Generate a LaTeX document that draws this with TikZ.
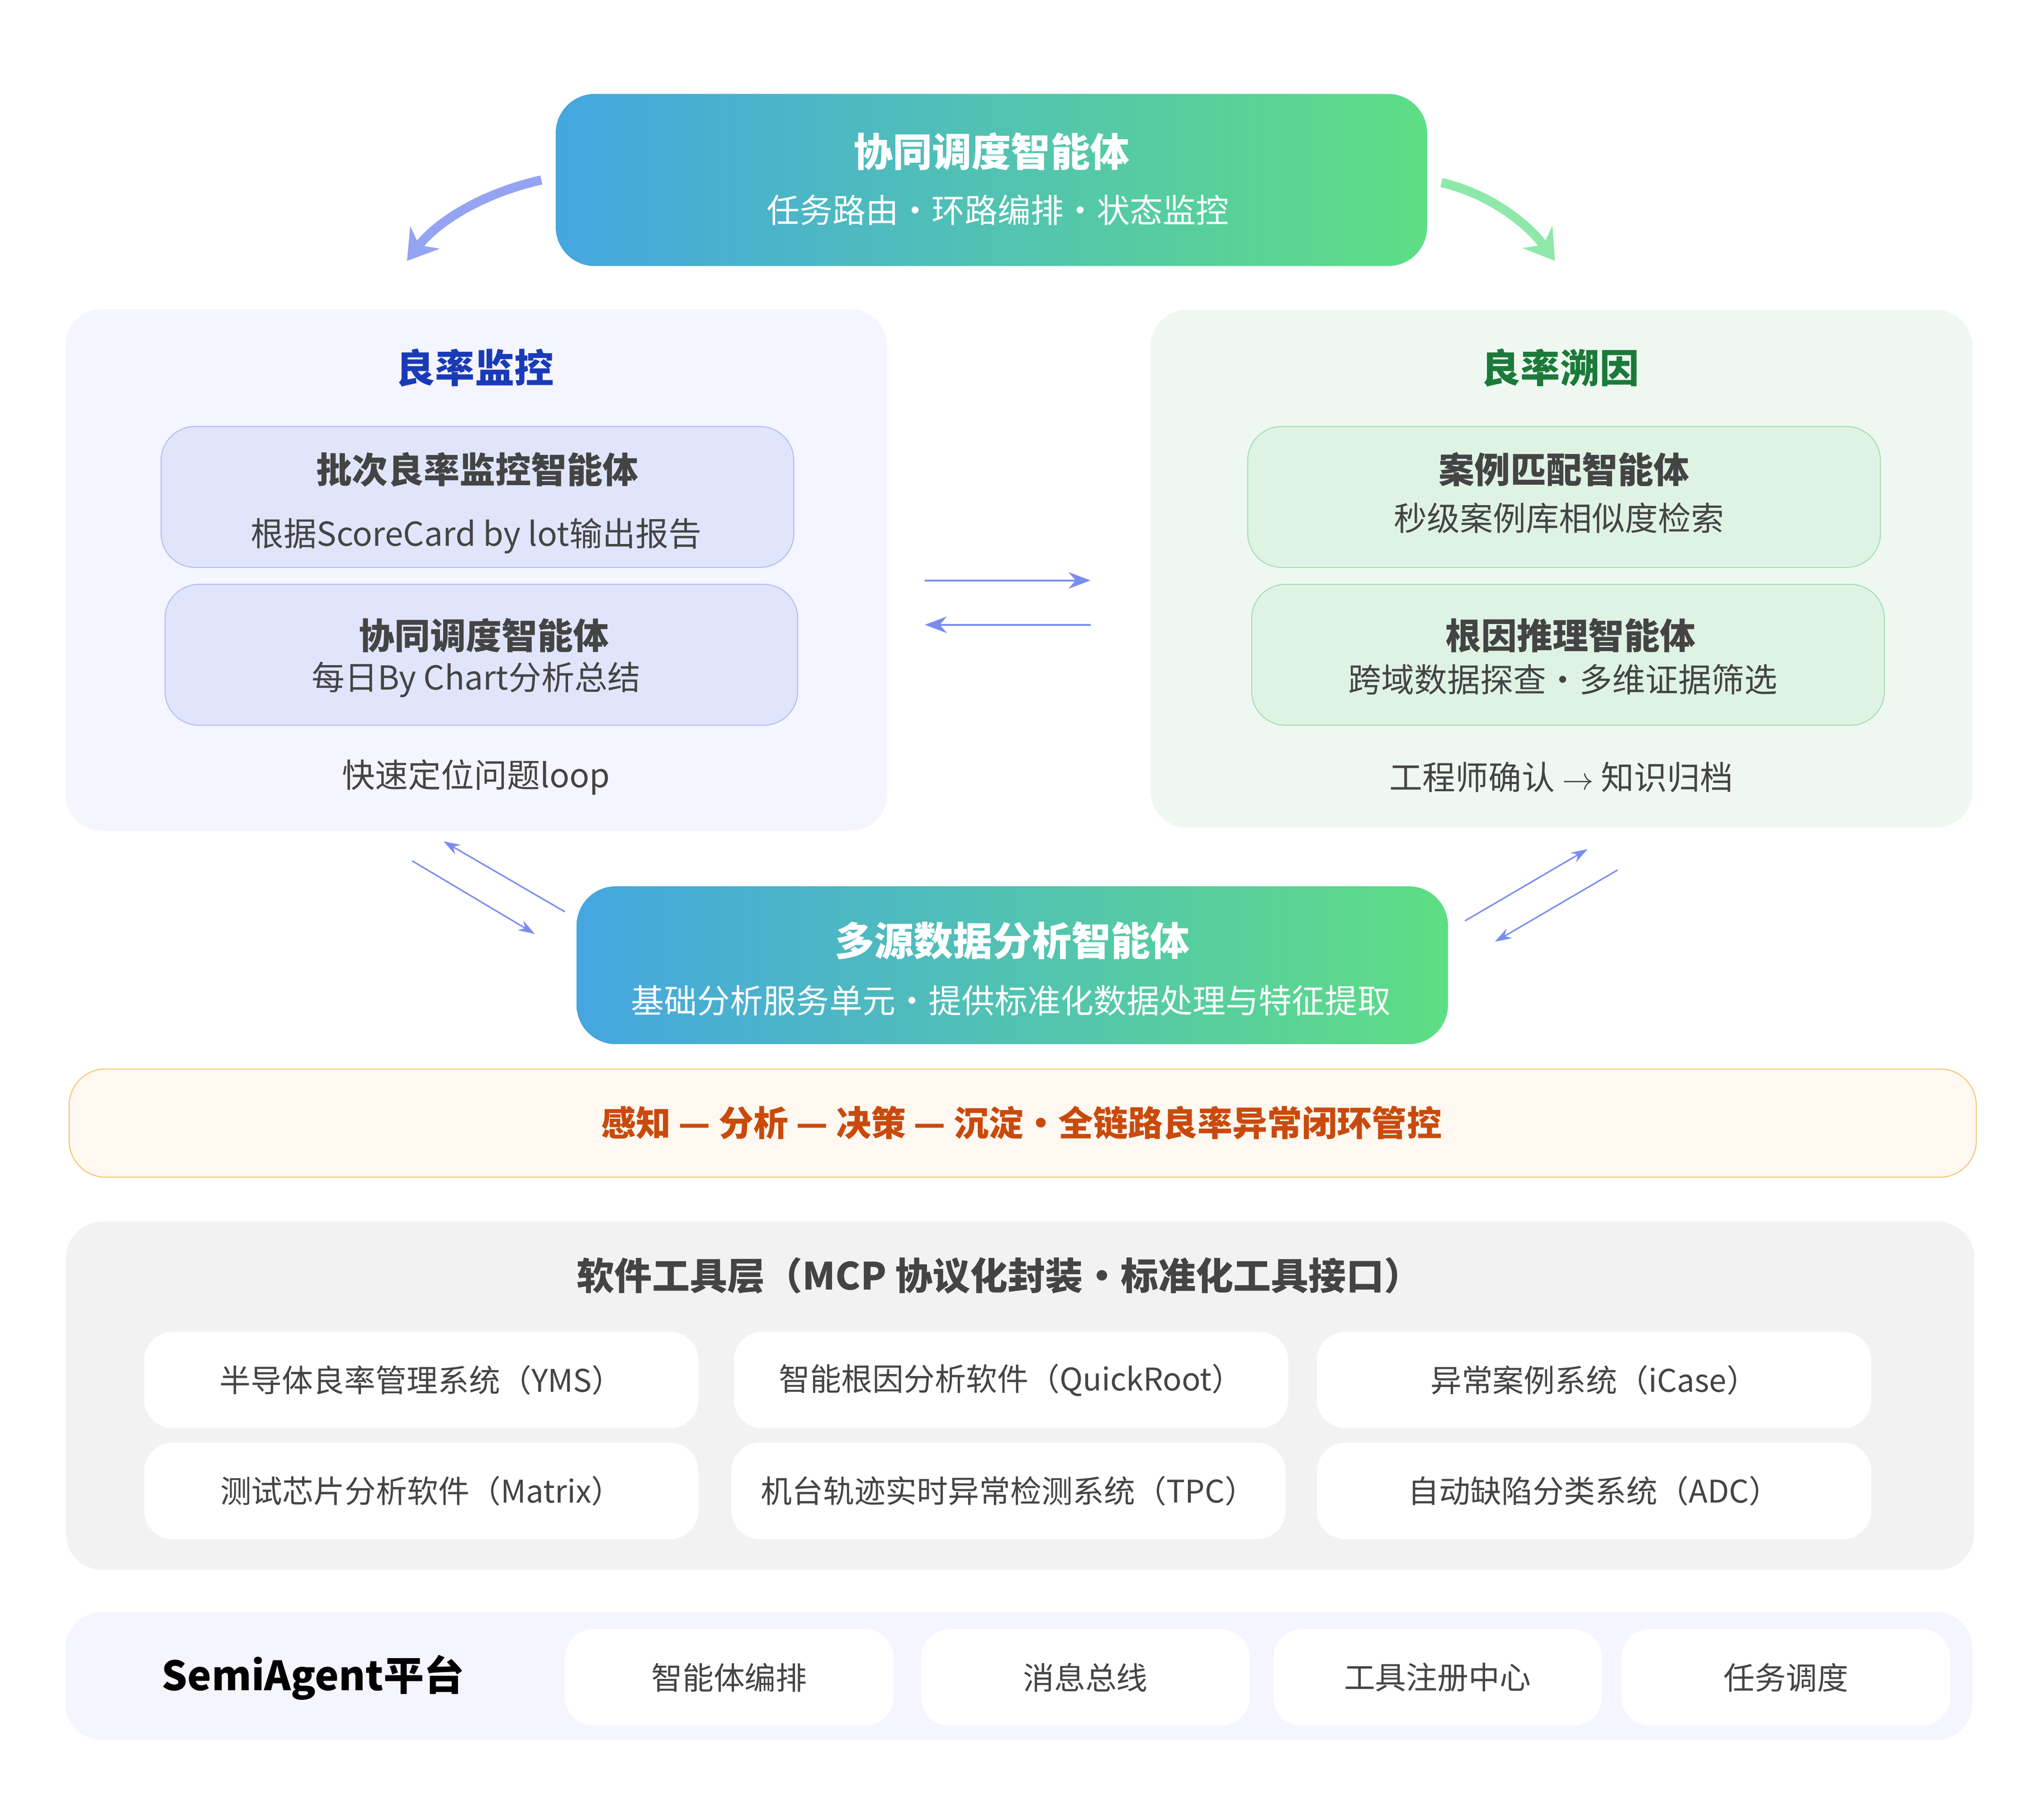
\documentclass[tikz,border=0pt]{standalone}
\usepackage{fontspec}
\setmainfont{Noto Sans CJK SC}
\usepackage{tikz}
\usetikzlibrary{arrows.meta, positioning, calc}

\definecolor{gblue}{HTML}{45A6E0}
\definecolor{ggreen}{HTML}{5EDE84}
\definecolor{arrowc}{HTML}{7B8CF0}
\definecolor{darktxt}{HTML}{444444}
\newdimen\pu \pu=0.025cm

\tikzset{
  gradbox/.style={rounded corners=30\pu, left color=gblue, right color=ggreen,
    text=white, align=center, inner sep=0pt},
  panel/.style={rounded corners=28\pu, draw=none, inner sep=0pt},
  agent/.style={rounded corners=26\pu, line width=0.6pt, inner sep=0pt,
    minimum width=485\pu, minimum height=108\pu},
  tool/.style={rounded corners=22\pu, fill=white, inner sep=0pt,
    minimum height=74\pu, font=\fontsize{17}{20}\selectfont, text=darktxt},
  bigt/.style={font=\fontsize{21.5}{24}\selectfont\bfseries},
  subt/.style={font=\fontsize{18}{20}\selectfont},
  boxt/.style={text=darktxt, font=\fontsize{19.5}{22}\selectfont\bfseries},
  link/.style={arrowc, line width=1pt, -{Stealth[length=12pt,width=9pt]}},
  thin link/.style={arrowc, line width=0.8pt, -{Stealth[length=9pt,width=6pt]}},
}

\begin{document}
\begin{tikzpicture}[x=0.025cm,y=-0.025cm]
\useasboundingbox (0,0) rectangle (1560,1395);

% ------------------------
% Top coordinator
% ------------------------
\node[gradbox, minimum width=668\pu, minimum height=132\pu] (coord) at (760,138) {};
\node[bigt, text=white] (coordT) at (760,116) {协同调度智能体};
\node[subt, text=white] (coordS) at (765,161) {任务路由・环路编排・状态监控};

\coordinate (la) at (415,138);
\coordinate (lb) at (312,200);
\coordinate (ra) at (1105,140);
\coordinate (rb) at (1192,200);
\draw[arrowc!80, line width=5pt, -{Stealth[length=16pt,width=20pt]}]
  (la) .. controls (370,148) and (335,170) .. (lb);
\draw[ggreen!70, line width=5pt, -{Stealth[length=16pt,width=20pt]}]
  (ra) .. controls (1140,148) and (1170,170) .. (rb);

% ------------------------
% Left panel: monitoring
% ------------------------
\node[panel, fill=blue!4!white, minimum width=630\pu, minimum height=400\pu] (monP) at (365,437) {};
\node[bigt, text={rgb,255:red,26;green,59;blue,184}] (monT) at (364,282) {良率监控};
\node[agent, fill={rgb,255:red,224;green,229;blue,252}, draw={rgb,255:red,184;green,192;blue,244}] (lotA) at (366,381) {};
\node[boxt] at (366,360) {批次良率监控智能体};
\node[subt, text=darktxt] at (365,411) {根据ScoreCard by lot输出报告};
\node[agent, fill={rgb,255:red,224;green,229;blue,252}, draw={rgb,255:red,184;green,192;blue,244}] (chartA) at (369,502) {};
\node[boxt] at (371,487) {协同调度智能体};
\node[subt, text=darktxt] at (365,521) {每日By Chart分析总结};
\node[subt, text=darktxt] at (365,596) {快速定位问题loop};

% ------------------------
% Right panel: root cause
% ------------------------
\node[panel, fill={rgb,255:red,238;green,248;blue,241}, minimum width=630\pu, minimum height=397\pu] (rcP) at (1197,436) {};
\node[bigt, text={rgb,255:red,27;green,122;blue,58}] (rcT) at (1196,282) {良率溯因};
\node[agent, fill={rgb,255:red,223;green,243;blue,229}, draw={rgb,255:red,168;green,224;blue,184}] (caseA) at (1199,381) {};
\node[boxt] at (1199,360) {案例匹配智能体};
\node[subt, text=darktxt] at (1195,397) {秒级案例库相似度检索};
\node[agent, fill={rgb,255:red,223;green,243;blue,229}, draw={rgb,255:red,168;green,224;blue,184}] (rootA) at (1202,502) {};
\node[boxt] at (1204,487) {根因推理智能体};
\node[subt, text=darktxt] at (1198,521) {跨域数据探查・多维证据筛选};
\node[subt, text=darktxt] at (1197,596) {工程师确认 $\rightarrow$ 知识归档};

% exchange between panels
\coordinate (m1a) at (709,445); \coordinate (m1b) at (836,445);
\coordinate (m2a) at (836,479); \coordinate (m2b) at (709,479);
\draw[link] (m1a) -- (m1b);
\draw[link] (m2a) -- (m2b);

% ------------------------
% Data analysis agent
% ------------------------
\node[gradbox, minimum width=668\pu, minimum height=121\pu] (data) at (776,740) {};
\node[bigt, text=white] at (776,721) {多源数据分析智能体};
\node[subt, text=white] at (775,767) {基础分析服务单元・提供标准化数据处理与特征提取};

\coordinate (d1a) at (433,699); \coordinate (d1b) at (340,645);
\coordinate (d2a) at (316,660); \coordinate (d2b) at (410,716);
\coordinate (d3a) at (1123,706); \coordinate (d3b) at (1217,651);
\coordinate (d4a) at (1240,667); \coordinate (d4b) at (1146,722);
\foreach \s/\t in {d1a/d1b, d2a/d2b, d3a/d3b, d4a/d4b}
  \draw[thin link] (\s) -- (\t);

% ------------------------
% Closed loop banner
% ------------------------
\node[rounded corners=28\pu, fill={rgb,255:red,255;green,248;blue,240}, draw={rgb,255:red,245;green,199;blue,122},
  line width=0.6pt, minimum width=1462\pu, minimum height=83\pu, inner sep=0pt] (loop) at (784,861) {};
\node[text={rgb,255:red,201;green,74;blue,12}, font=\fontsize{19}{20}\selectfont\bfseries] at (783,861)
  {感知 — 分析 — 决策 — 沉淀・全链路良率异常闭环管控};

% ------------------------
% Tool layer
% ------------------------
\node[panel, fill={rgb,255:red,242;green,242;blue,242}, minimum width=1463\pu, minimum height=267\pu] (toolP) at (782,1070) {};
\node[text=darktxt, font=\fontsize{20.5}{22}\selectfont\bfseries] at (766,978) {软件工具层（MCP 协议化封装・标准化工具接口）};
\node[tool, minimum width=425\pu] (yms) at (323,1058) {半导体良率管理系统（YMS）};
\node[tool, minimum width=425\pu] (qr) at (775,1058) {智能根因分析软件（QuickRoot）};
\node[tool, minimum width=425\pu] (icase) at (1222,1058) {异常案例系统（iCase）};
\node[tool, minimum width=425\pu] (matrix) at (323,1143) {测试芯片分析软件（Matrix）};
\node[tool, minimum width=425\pu] (tpc) at (773,1143) {机台轨迹实时异常检测系统（TPC）};
\node[tool, minimum width=425\pu] (adc) at (1222,1143) {自动缺陷分类系统（ADC）};

% ------------------------
% Platform
% ------------------------
\node[panel, fill=blue!4!white, minimum width=1462\pu, minimum height=98\pu] (plat) at (781,1285) {};
\node[font=\fontsize{22}{24}\selectfont\bfseries] at (240,1286) {SemiAgent平台};
\node[tool, minimum width=252\pu] (orch) at (559,1286) {智能体编排};
\node[tool, minimum width=252\pu] (bus) at (832,1286) {消息总线};
\node[tool, minimum width=252\pu] (reg) at (1102,1286) {工具注册中心};
\node[tool, minimum width=252\pu] (sched) at (1369,1286) {任务调度};

\end{tikzpicture}
\end{document}
